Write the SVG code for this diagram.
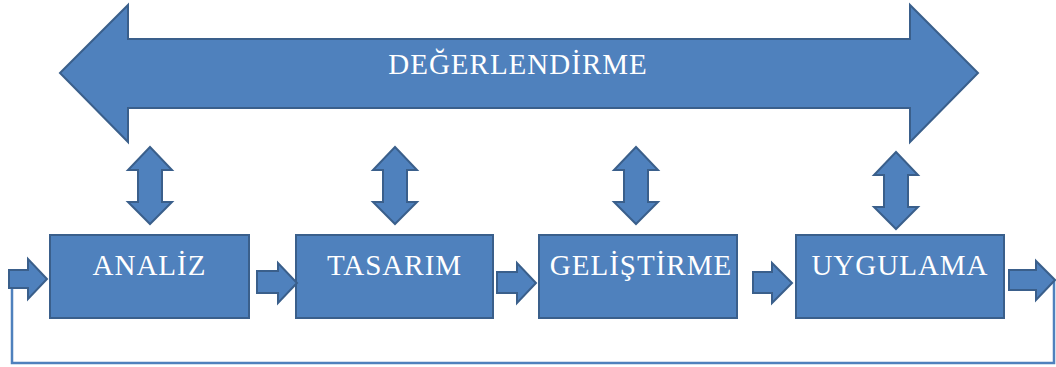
<svg xmlns="http://www.w3.org/2000/svg" width="1056" height="367" viewBox="0 0 1056 367">
<style>
.s{fill:#4f81bd;stroke:#3a5f8b;stroke-width:2;stroke-linejoin:miter}
.t{font-family:"Liberation Serif","Times New Roman",serif;fill:#ffffff;text-anchor:middle}
.line{fill:none;stroke:#4f81bd;stroke-width:2.5}
</style>
<rect width="1056" height="367" fill="#ffffff"/>
<g id="degerlendirme">
<polygon class="s" points="60,73 128,5 128,39 910,39 910,5 978,73 910,142 910,108 128,108 128,142"/>
<text class="t" x="518" y="74" font-size="29" letter-spacing="1">DEĞERLENDİRME</text>
</g>
<g id="analiz">
<rect class="s" x="50" y="235" width="199" height="83"/>
<text class="t" x="149.5" y="275" font-size="29" letter-spacing="1">ANALİZ</text>
</g>
<g id="tasarim">
<rect class="s" x="296" y="235" width="197" height="83"/>
<text class="t" x="394.5" y="275" font-size="29" letter-spacing="1">TASARIM</text>
</g>
<g id="gelistirme">
<rect class="s" x="539" y="235" width="198" height="83"/>
<text class="t" x="641" y="275" font-size="29" letter-spacing="1">GELİŞTİRME</text>
</g>
<g id="uygulama">
<rect class="s" x="796" y="235" width="208" height="83"/>
<text class="t" x="900" y="275" font-size="29" letter-spacing="1">UYGULAMA</text>
</g>
<g id="connectors">
<polyline class="line" points="12,280 12,363 1054,363 1054,280"/>
<polygon class="s" points="150,147 172,170 162,170 162,202 172,202 150,224 128,202 138,202 138,170 128,170"/>
<polygon class="s" points="395,147 417,170 407,170 407,202 417,202 395,224 373,202 383,202 383,170 373,170"/>
<polygon class="s" points="636,147 658,170 648,170 648,202 658,202 636,224 614,202 624,202 624,170 614,170"/>
<polygon class="s" points="896,152 918,175 908,175 908,207 918,207 896,229 874,207 884,207 884,175 874,175"/>
<polygon class="s" points="9,270 28,270 28,259 47,279 28,299 28,288 9,288"/>
<polygon class="s" points="257,271 278,271 278,263 297,283 278,303 278,293 257,293"/>
<polygon class="s" points="497,272 517,272 517,263 536,283 517,303 517,293 497,293"/>
<polygon class="s" points="753,272 772,272 772,263 792,283 772,303 772,293 753,293"/>
<polygon class="s" points="1009,270 1036,270 1036,261 1055,280 1036,300 1036,290 1009,290"/>
</g>
</svg>
